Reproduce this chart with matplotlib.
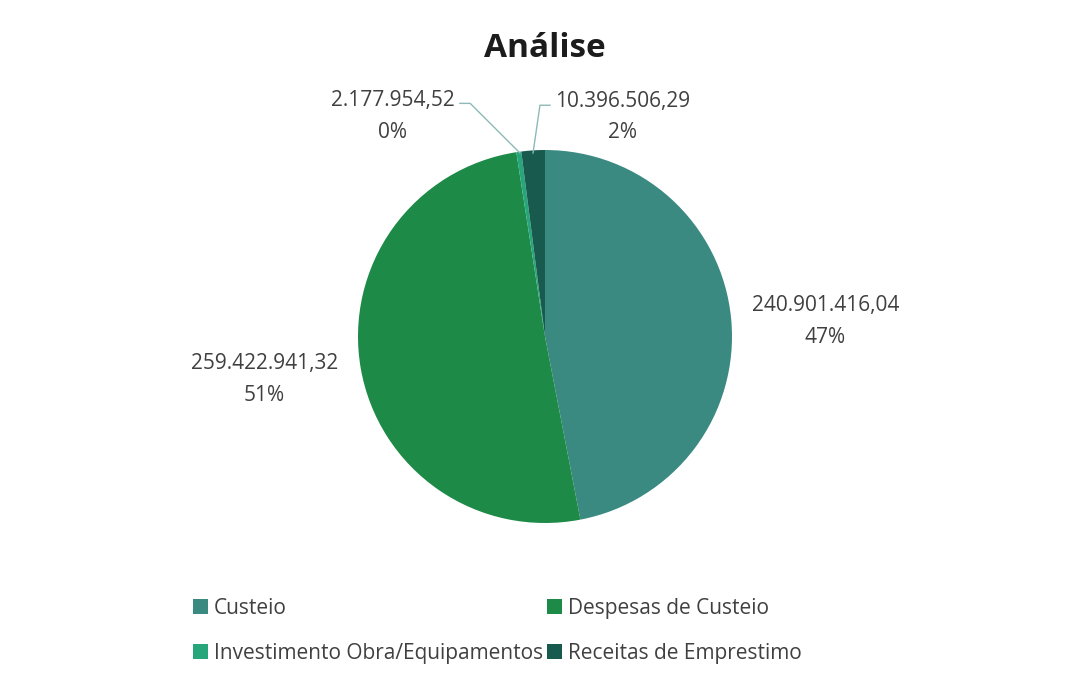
import matplotlib.pyplot as plt
from matplotlib.patches import Patch

plt.rcParams['font.family'] = ['Open Sans', 'DejaVu Sans']

categories = ['Custeio', 'Despesas de Custeio', 'Investimento Obra/Equipamentos', 'Receitas de Emprestimo']
values = [240901416.04, 259422941.32, 2177954.52, 10396506.29]
value_labels = ['240.901.416,04', '259.422.941,32', '2.177.954,52', '10.396.506,29']
colors = ['#3b8a82', '#1d8a47', '#26a67a', '#185a4e']

total = sum(values)
pct_labels = ['%d%%' % round(v / total * 100) for v in values]

fig = plt.figure(figsize=(10.72, 6.79), dpi=100)
fig.patch.set_facecolor('white')

# pie spans approx px 358..732 x 150..523
ax = fig.add_axes([358 / 1072, 1 - 523 / 679, 374 / 1072, 373 / 679])
wedges, _ = ax.pie(values, colors=colors, startangle=90, counterclock=False,
                   radius=1, wedgeprops=dict(linewidth=0))
ax.set_xlim(-1, 1)
ax.set_ylim(-1, 1)
ax.set_aspect('auto')
ax.axis('off')

txt = '#404040'
line_c = '#8db9b7'
# label centers (data coords of pie axes)
label_pos = [(1.50, 0.08), (-1.50, -0.23), (-0.813, 1.18), (0.417, 1.177)]
for i, (x, y) in enumerate(label_pos):
    ax.text(x, y, value_labels[i] + '\n' + pct_labels[i], ha='center', va='center',
            fontsize=15, color=txt, linespacing=1.65, clip_on=False)

# leader lines for the small slices
ax.plot([-0.455, -0.40, -0.134], [1.25, 1.25, 0.984], color=line_c, lw=1, clip_on=False)
ax.plot([0.027, -0.027, -0.064], [1.24, 1.24, 0.984], color=line_c, lw=1, clip_on=False)

fig.text(0.508, 0.928, 'Análise', ha='center', va='center', fontsize=24,
         fontweight='bold', color='#1c1c1c')

# legend fills column-wise, so reorder to read row by row
order = [0, 2, 1, 3]
handles = [Patch(facecolor=colors[i], edgecolor='none') for i in order]
labels = [categories[i] for i in order]
fig.legend(handles, labels, loc='center', bbox_to_anchor=(0.464, 0.071), ncol=2,
           frameon=False, fontsize=15, handlelength=0.7, handleheight=0.7,
           handletextpad=0.3, columnspacing=0.2, labelspacing=1.15, labelcolor=txt)

fig.savefig('out.png', dpi=100)
